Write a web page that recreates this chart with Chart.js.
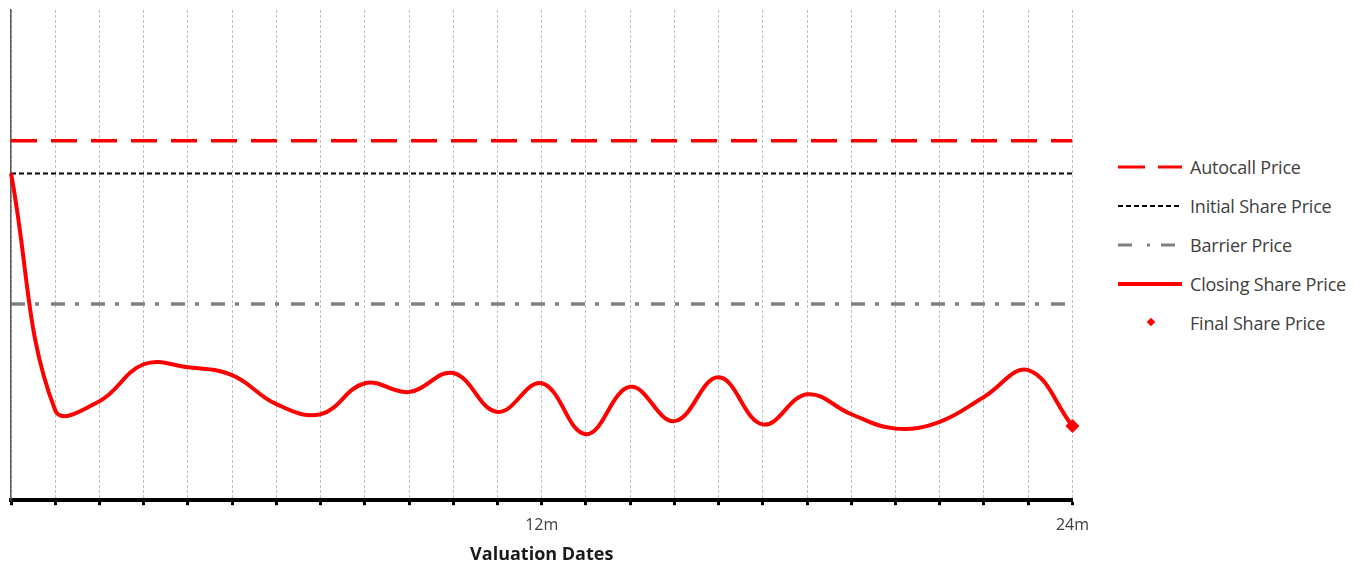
<!DOCTYPE html>
<html>
<head>
<meta charset="utf-8">
<script src="https://cdn.jsdelivr.net/npm/chart.js@4.4.0/dist/chart.umd.min.js"></script>
<style>
  html, body { margin: 0; padding: 0; background: #fff; overflow: hidden; }
  #wrap { position: absolute; left: 0; top: 0; width: 1100px; height: 566px; }
  #legend { position: absolute; left: 1118px; top: 147px; font-family: "Open Sans", sans-serif; font-size: 18px; color: #404040; }
  .item { height: 39px; display: flex; align-items: center; white-space: nowrap; letter-spacing: -0.2px; }
  .item svg { width: 64px; height: 12px; margin-right: 8px; flex: none; }
</style>
</head>
<body>
<div id="wrap"><canvas id="chart"></canvas></div>
<div id="legend">
  <div class="item"><svg viewBox="0 0 64 12"><line x1="0" y1="6" x2="64" y2="6" stroke="#ff0000" stroke-width="3" stroke-dasharray="27 13"/></svg>Autocall Price</div>
  <div class="item"><svg viewBox="0 0 64 12"><line x1="0" y1="6" x2="64" y2="6" stroke="#000" stroke-width="2" stroke-dasharray="5 3"/></svg>Initial Share Price</div>
  <div class="item"><svg viewBox="0 0 64 12"><line x1="0" y1="6" x2="64" y2="6" stroke="#808080" stroke-width="3" stroke-dasharray="14 15 3 11"/></svg>Barrier Price</div>
  <div class="item"><svg viewBox="0 0 64 12"><line x1="0" y1="6" x2="64" y2="6" stroke="#ff0000" stroke-width="4"/></svg>Closing Share Price</div>
  <div class="item"><svg viewBox="0 0 64 12"><rect x="30" y="2" width="6" height="6" fill="#ff0000" transform="rotate(45 33 5)"/></svg>Final Share Price</div>
</div>
<script>
// months 0..24 from the trade date
const months = [0, 1, 2, 3, 4, 5, 6, 7, 8, 9, 10, 11, 12, 13, 14, 15, 16, 17, 18, 19, 20, 21, 22, 23, 24];
const closingPrices = [100, 27.5, 30.3, 41.6, 40.7, 38.3, 29.4, 26.3, 35.8, 33.1, 38.9, 27.0, 35.8,
                       20.2, 34.7, 24.2, 37.6, 23.2, 32.4, 26.3, 21.9, 24.0, 31.6, 39.8, 22.7];
const autocallPrice = [110, 110];
const initialPrice = [100, 100];
const barrierPrice = [60, 60];
const levelMonths = [0, 24];
const finalMonth = [24];
const finalPrice = [22.7];
const tickLabelMonths = [12, 24];
const tickLabels = ['12m', '24m'];

const pts = (xs, ys) => xs.map((x, i) => ({ x, y: ys[i] }));

new Chart(document.getElementById('chart'), {
  type: 'line',
  data: {
    datasets: [
      { label: 'Final Share Price', data: pts(finalMonth, finalPrice), showLine: false,
        pointStyle: 'rectRot', pointRadius: 7, pointBackgroundColor: '#ff0000', pointBorderWidth: 0, order: 0, clip: false },
      { label: 'Closing Share Price', data: pts(months, closingPrices), borderColor: '#ff0000', borderWidth: 4,
        pointRadius: 0, tension: 0.4, order: 1, clip: false },
      { label: 'Autocall Price', data: pts(levelMonths, autocallPrice), borderColor: '#ff0000', borderWidth: 3.5,
        borderDash: [26, 14], pointRadius: 0, order: 2 },
      { label: 'Initial Share Price', data: pts(levelMonths, initialPrice), borderColor: '#000000', borderWidth: 2,
        borderDash: [5, 3], pointRadius: 0, order: 3 },
      { label: 'Barrier Price', data: pts(levelMonths, barrierPrice), borderColor: '#808080', borderWidth: 3.5,
        borderDash: [14, 10, 4, 12], pointRadius: 0, order: 4 }
    ]
  },
  options: {
    responsive: true,
    maintainAspectRatio: false,
    animation: false,
    layout: { padding: { left: 3, top: 10, right: 13, bottom: 0 } },
    plugins: { legend: { display: false }, tooltip: { enabled: false } },
    scales: {
      x: {
        type: 'linear', min: 0, max: 24,
        ticks: {
          stepSize: 1, autoSkip: false, maxRotation: 0, color: '#404040',
          font: { family: 'Open Sans', size: 16 }, padding: 11,
          callback: v => { const i = tickLabelMonths.indexOf(v); return i >= 0 ? tickLabels[i] : ''; }
        },
        grid: { color: '#bfbfbf', lineWidth: 1, tickLength: 5, tickWidth: 3, tickColor: '#000', tickBorderDash: [] },
        border: { color: '#000', width: 4, dash: [3, 2] },
        title: { display: true, text: 'Valuation Dates', color: '#1a1a1a', font: { family: 'Open Sans', size: 18, weight: 'bold' }, padding: { top: -2, bottom: 0 } }
      },
      y: {
        min: 0, max: 150,
        ticks: { display: false },
        grid: { display: false },
        border: { color: '#595959', width: 1.5 }
      }
    }
  }
});
</script>
</body>
</html>
